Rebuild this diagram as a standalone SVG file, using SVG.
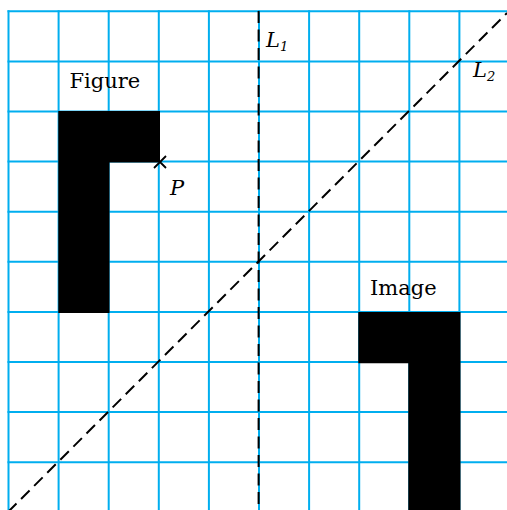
<svg xmlns="http://www.w3.org/2000/svg" width="507" height="510" viewBox="0 0 507 510">
<style>
.grid line{stroke:#00AEEF;stroke-width:2}
.dash{stroke:#000;stroke-width:2;stroke-dasharray:12 6.5;fill:none}
.t{font-family:'DejaVu Serif','Liberation Serif',serif;font-size:21px;fill:#000}
.it{font-style:italic}
.sub{font-size:13px}
</style>
<rect width="507" height="510" fill="#fff"/>
<g class="grid" id="grid">
<line x1="8.5" y1="10.3" x2="8.5" y2="510"/>
<line x1="58.6" y1="10.3" x2="58.6" y2="510"/>
<line x1="108.7" y1="10.3" x2="108.7" y2="510"/>
<line x1="158.8" y1="10.3" x2="158.8" y2="510"/>
<line x1="208.9" y1="10.3" x2="208.9" y2="510"/>
<line x1="259" y1="10.3" x2="259" y2="510"/>
<line x1="309.1" y1="10.3" x2="309.1" y2="510"/>
<line x1="359.2" y1="10.3" x2="359.2" y2="510"/>
<line x1="409.3" y1="10.3" x2="409.3" y2="510"/>
<line x1="459.4" y1="10.3" x2="459.4" y2="510"/>
<line x1="7.5" y1="11.3" x2="507" y2="11.3"/>
<line x1="7.5" y1="61.4" x2="507" y2="61.4"/>
<line x1="7.5" y1="111.5" x2="507" y2="111.5"/>
<line x1="7.5" y1="161.6" x2="507" y2="161.6"/>
<line x1="7.5" y1="211.7" x2="507" y2="211.7"/>
<line x1="7.5" y1="261.8" x2="507" y2="261.8"/>
<line x1="7.5" y1="311.9" x2="507" y2="311.9"/>
<line x1="7.5" y1="362" x2="507" y2="362"/>
<line x1="7.5" y1="412.1" x2="507" y2="412.1"/>
<line x1="7.5" y1="462.2" x2="507" y2="462.2"/>
</g>
<g id="figure">
<path d="M58.3 111 H160 V162.6 H109.5 V312.9 H58.3 Z" fill="#000"/>
<text class="t" x="69.5" y="88.3">Figure</text>
</g>
<g id="image">
<path d="M358.3 312 H460.5 V510 H408.3 V363.2 H358.3 Z" fill="#000"/>
<text class="t" x="370" y="295">Image</text>
</g>
<g id="connectors">
<line class="dash" x1="258.6" y1="11" x2="258.6" y2="510"/>
<line class="dash" x1="8" y1="512" x2="507" y2="13"/>
</g>
<g id="pointP">
<path d="M154 156 L166 168 M166 156 L154 168" stroke="#000" stroke-width="1.8" fill="none"/>
<text class="t it" x="170" y="195">P</text>
</g>
<g id="labelL1">
<text class="t it" x="266" y="46.5">L<tspan class="sub" dy="4">1</tspan></text>
</g>
<g id="labelL2">
<text class="t it" x="473" y="76.5">L<tspan class="sub" dy="4">2</tspan></text>
</g>
</svg>
